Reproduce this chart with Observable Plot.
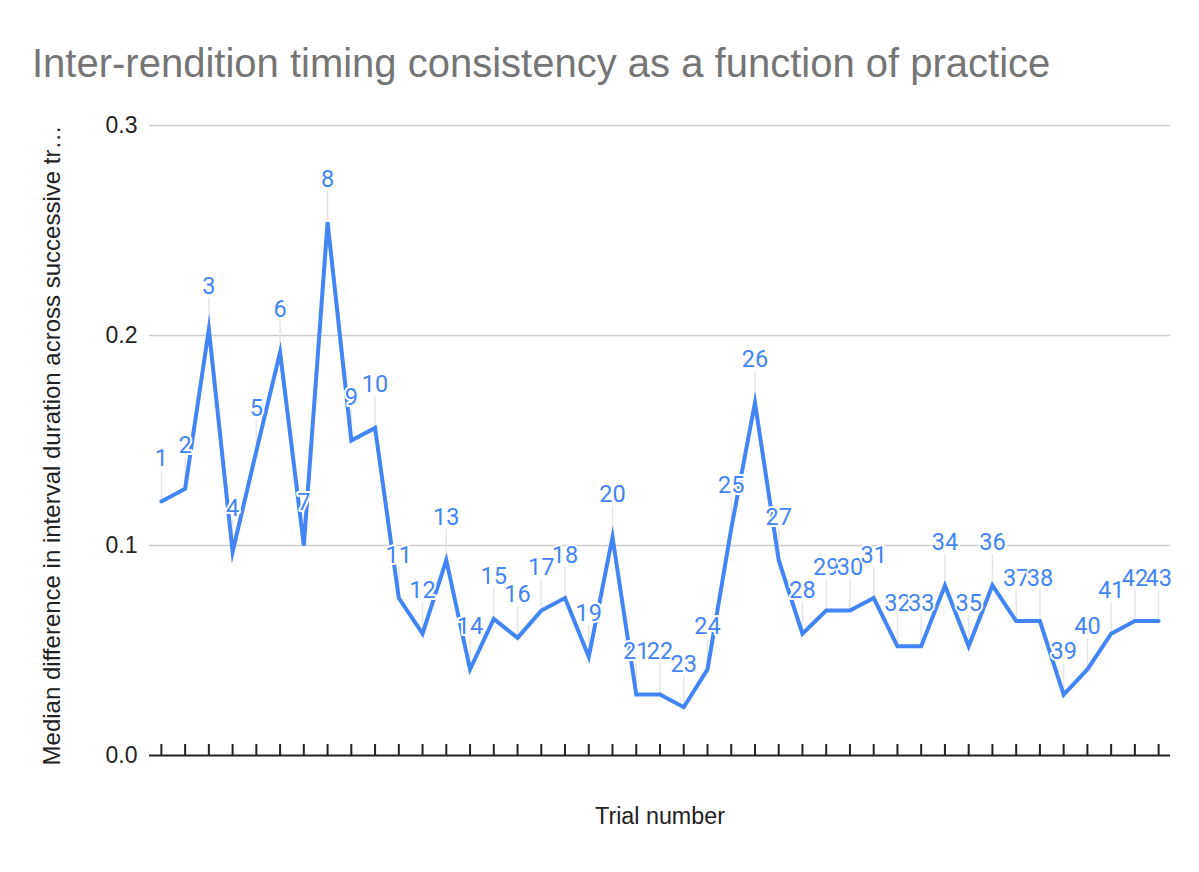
<!DOCTYPE html>
<html>
<head>
<meta charset="utf-8">
<script src="https://cdn.jsdelivr.net/npm/d3@7"></script>
<script src="https://cdn.jsdelivr.net/npm/@observablehq/plot@0.6"></script>
<style>
  html, body { margin: 0; padding: 0; background: #fff; }
  #title {
    height: 100px; box-sizing: border-box;
    padding: 43px 0 0 32px;
    font-family: "Liberation Sans", Arial, sans-serif;
    font-size: 40px; line-height: 1; color: #757575; white-space: nowrap;
  }
</style>
</head>
<body>
<div id="title"></div>
<div id="chart"></div>
<script>
const chartTitle = "Inter-rendition timing consistency as a function of practice";
const yLabel = "Median difference in interval duration across successive tr…";
const xLabel = "Trial number";
const trials = [1,2,3,4,5,6,7,8,9,10,11,12,13,14,15,16,17,18,19,20,21,22,23,24,25,26,27,28,29,30,31,32,33,34,35,36,37,38,39,40,41,42,43];
const values = [0.121,0.127,0.203,0.097,0.145,0.192,0.100,0.254,0.150,0.156,
                0.075,0.058,0.093,0.041,0.065,0.056,0.069,0.075,0.047,0.104,
                0.029,0.029,0.023,0.041,0.108,0.168,0.093,0.058,0.069,0.069,
                0.075,0.052,0.052,0.081,0.052,0.081,0.064,0.064,0.029,0.041,
                0.058,0.064,0.064];
const yTicks = [0, 0.1, 0.2, 0.3];
const gridTicks = [0.1, 0.2, 0.3];

document.getElementById("title").textContent = chartTitle;

const data = trials.map((t, i) => ({trial: t, value: values[i], label: String(t)}));
const blue = "#4285f4";

const chart = Plot.plot({
  width: 1199,
  height: 772,
  marginTop: 25,
  marginBottom: 117,
  marginLeft: 149,
  marginRight: 29,
  style: {fontFamily: "'Liberation Sans', Arial, sans-serif", fontSize: "23px", color: "#222", background: "#fff"},
  x: {type: "point", domain: trials, padding: 0.5, axis: null},
  y: {domain: [0, 0.3], axis: null},
  marks: [
    Plot.gridY(gridTicks, {stroke: "#cccccc", strokeOpacity: 1, strokeWidth: 1.5}),
    Plot.axisY(yTicks, {tickSize: 0, tickPadding: 12, tickFormat: d3.format(".1f"), fontSize: 23, fill: "#222", label: null}),
    Plot.ruleY([0], {stroke: "#222", strokeWidth: 2}),
    Plot.ruleX(data, {x: "trial", y1: 0, y2: 0, insetTop: -11, stroke: "#222", strokeWidth: 2}),
    Plot.ruleX(data, {x: "trial", y1: "value", y2: "value", insetTop: -31, stroke: "#e6e6e6", strokeWidth: 1.5}),
    Plot.line(data, {x: "trial", y: "value", stroke: blue, strokeWidth: 4, strokeLinejoin: "miter", strokeMiterlimit: 10}),
    Plot.text(data, {x: "trial", y: "value", text: "label", dy: -43, lineAnchor: "middle",
      fill: blue, stroke: "white", strokeWidth: 4, paintOrder: "stroke",
      fontFamily: "Roboto, sans-serif", fontSize: 23.5}),
    Plot.text([yLabel], {frameAnchor: "left", rotate: -90, dx: -97, dy: 5, fontSize: 24, fill: "#222", textAnchor: "middle", lineAnchor: "middle"}),
    Plot.text([xLabel], {frameAnchor: "bottom", dy: 68, lineAnchor: "bottom", fontSize: 23.3, fill: "#222"})
  ]
});
document.getElementById("chart").appendChild(chart);
</script>
</body>
</html>
